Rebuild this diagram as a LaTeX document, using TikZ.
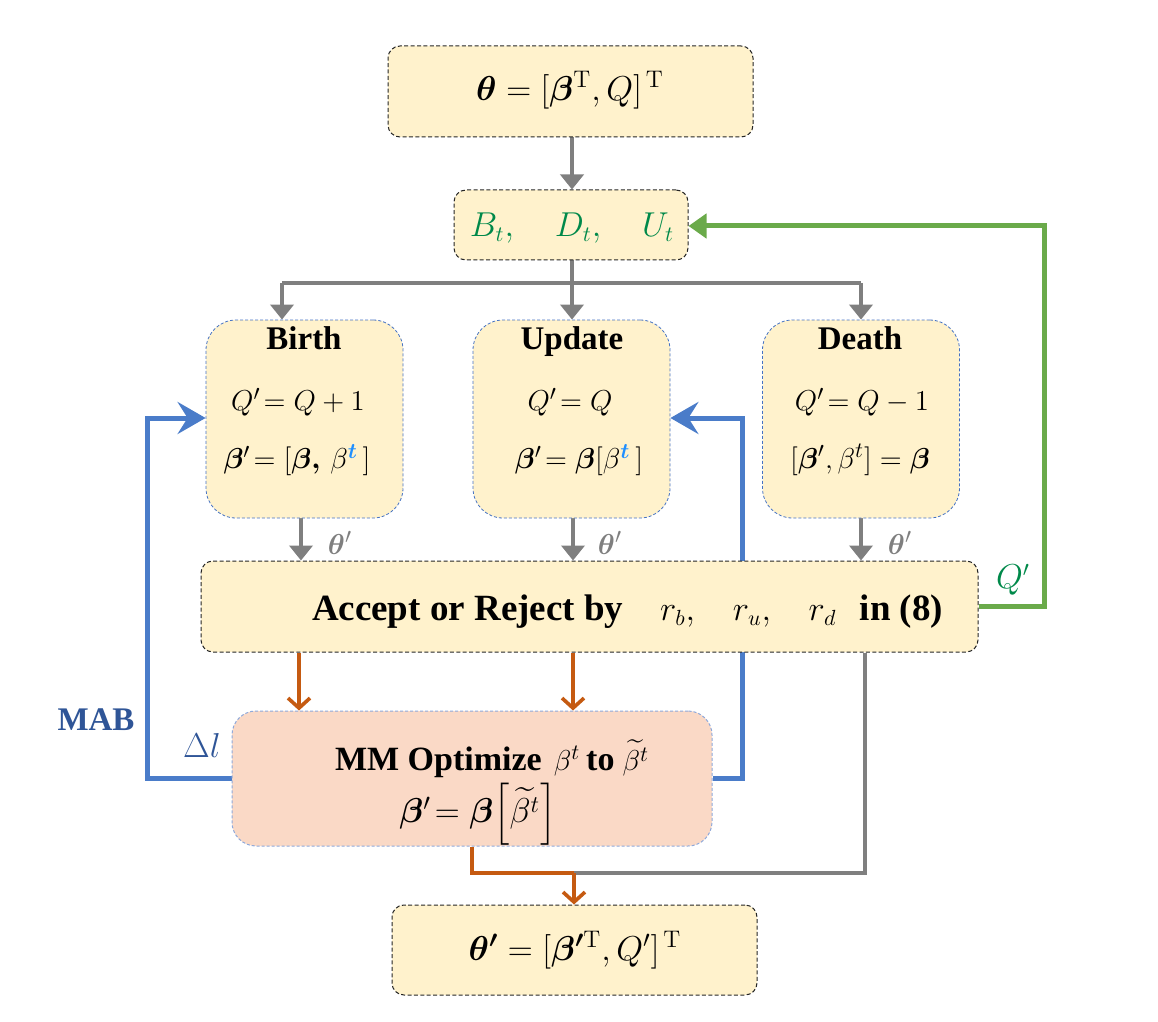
\documentclass[tikz,border=0pt]{standalone}
\usepackage{amsmath,bm}
\usepackage[no-math]{fontspec}
\setmainfont{Liberation Serif}
\usetikzlibrary{arrows.meta}
\definecolor{boxfill}{HTML}{FFF2CC}
\definecolor{mmfill}{HTML}{FAD9C6}
\definecolor{arrgray}{HTML}{7F7F7F}
\definecolor{arrorange}{HTML}{C55A11}
\definecolor{loopblue}{HTML}{4A7CC9}
\definecolor{loopgreen}{HTML}{6AAA4A}
\definecolor{txtgreen}{HTML}{00894A}
\definecolor{mabblue}{HTML}{2F5597}
\definecolor{tblue}{HTML}{1F8FFF}
\definecolor{dashblue}{HTML}{4472C4}
\definecolor{mmborder}{HTML}{8EA9DB}
\pgfdeclarelayer{bg}
\pgfsetlayers{bg,main}
\newcommand{\fs}[1]{\fontsize{#1}{#1}\selectfont}
\begin{document}
\begin{tikzpicture}[x=0.5pt,y=-0.5pt,
  ybox/.style={fill=boxfill, draw=black!85, dash pattern=on 2pt off 1.2pt, line width=0.5pt, rounded corners=6pt, inner sep=0pt},
  pbox/.style={fill=boxfill, draw=dashblue, dash pattern=on 1.5pt off 1pt, line width=0.4pt, rounded corners=15pt, inner sep=0pt, minimum width=98.5pt, minimum height=99pt},
  mmbox/.style={fill=mmfill, draw=mmborder, dash pattern=on 1.5pt off 1pt, line width=0.5pt, rounded corners=12pt, inner sep=0pt},
  lbl/.style={inner sep=0pt, outer sep=0pt},
  grayline/.style={draw=arrgray, line width=2pt},
  grayarrow/.style={grayline, -{Triangle[length=7.5pt,width=11.5pt]}},
  orangeline/.style={draw=arrorange, line width=1.8pt},
  orangearrow/.style={orangeline, -{Straight Barb[length=5pt,width=11pt,line width=1.8pt]}},
  blueloop/.style={draw=loopblue, line width=2.5pt, -{Stealth[length=14pt,width=16pt,inset=5pt]}},
  greenloop/.style={draw=loopgreen, line width=2.5pt, -{Triangle[length=9pt,width=12pt]}},
  title/.style={lbl, anchor=base, font=\fs{16.5}\bfseries}
]
\useasboundingbox (0,0) rectangle (1158,1022);

% boxes
\node[ybox, minimum width=182.5pt, minimum height=45.5pt] (top) at (570.5,91.5) {};
\node[ybox, minimum width=117pt, minimum height=35pt] (bdu) at (571,225) {};
\node[pbox] (birth) at (304.5,419) {};
\node[pbox] (update) at (571.5,419) {};
\node[pbox] (death) at (861,419) {};
\node[ybox, minimum width=388.5pt, minimum height=45.5pt] (accept) at (589.5,606.5) {};
\node[mmbox, minimum width=240pt, minimum height=67.5pt] (mm) at (472,778.5) {};
\node[ybox, minimum width=182.5pt, minimum height=45pt] (bottom) at (574.5,950) {};

% texts
\node[lbl] (toptxt) at (570,90) {\fs{18.5}$\bm{\theta}=[\bm{\beta}^{\mathrm{T}},Q]^{\,\mathrm{T}}$};
\node[lbl, text=txtgreen] (bdutxt) at (572,228) {\fs{16}$B_t,\hspace{1.1em}D_t,\hspace{1.1em}U_t$};

\node[title] (birthT) at (304,350) {Birth};
\node[lbl] (birthQ) at (298,402) {\fs{15.5}$Q'\!=Q+1$};
\node[lbl] (birthB) at (297,460) {\fs{15.5}$\bm{\beta}'\!=[\bm{\beta,}\,\beta^{\textcolor{tblue}{\bm{t}}}\,]$};

\node[title] (updateT) at (572,350) {Update};
\node[lbl] (updateQ) at (570,402) {\fs{15.5}$Q'\!=Q$};
\node[lbl] (updateB) at (579,460) {\fs{15.5}$\bm{\beta}'\!=\bm{\beta}[\beta^{\textcolor{tblue}{\bm{t}}}\,]$};

\node[title] (deathT) at (860,350) {Death};
\node[lbl] (deathQ) at (862,402) {\fs{15.5}$Q'\!=Q-1$};
\node[lbl] (deathB) at (860,460) {\fs{15.5}$[\bm{\beta}',\beta^{t}]=\bm{\beta}$};

\node[lbl, text=arrgray] (th1) at (340,543) {\fs{15.5}$\bm{\theta}'$};
\node[lbl, text=arrgray] (th2) at (610,543) {\fs{15.5}$\bm{\theta}'$};
\node[lbl, text=arrgray] (th3) at (900,543) {\fs{15.5}$\bm{\theta}'$};

\node[lbl, anchor=base west] (acc1) at (312,620) {\fs{18.5}\bfseries Accept or Reject by};
\node[lbl, anchor=base west] (acc2) at (660,620) {\fs{16}$r_b,\hspace{1.0em}r_u,\hspace{1.0em}r_d$};
\node[lbl, anchor=base east] (acc3) at (943,620) {\fs{18.5}\bfseries in (8)};

\node[lbl, anchor=base] (mm1) at (492,770) {{\fs{17}\bfseries MM Optimize}\hspace{6pt}{\fs{15.5}$\beta^t$}\hspace{3pt}{\fs{17}\bfseries to}\hspace{4pt}{\fs{15.5}$\widetilde{\beta^t}$}};
\node[lbl] (mm2) at (478,814) {\fs{16.5}$\bm{\beta}'\!=\bm{\beta}\Big[\widetilde{\beta^t}\Big]$};

\node[lbl] (bottomtxt) at (575,950) {\fs{18.5}$\bm{\theta'}=[\bm{\beta'}^{\mathrm{T}},Q']^{\,\mathrm{T}}$};

\node[lbl, text=mabblue] (mab) at (96,720) {\fs{16.5}\bfseries MAB};
\node[lbl, text=mabblue] (dl) at (202,745) {\fs{17}$\Delta l$};
\node[lbl, text=txtgreen] (qp) at (1013,580) {\fs{16}$Q'$};

% coordinates
\coordinate (hs) at (572,283);
\coordinate (sb) at (282,283);
\coordinate (sd) at (861,283);
\coordinate (ob) at (301,0);
\coordinate (ou) at (573,0);
\coordinate (od) at (861,0);
\coordinate (oa1) at (299,0);
\coordinate (oa2) at (573,0);
\coordinate (lb) at (147,418);
\coordinate (rb) at (742,418);
\coordinate (gc) at (1044,226);
\coordinate (gd) at (865,0);
\coordinate (jn) at (574,873);

\begin{pgfonlayer}{bg}
\draw[blueloop] (mm.west) -| (lb) -- (lb -| birth.west);
\draw[blueloop] (mm.east) -| (rb) -- (rb -| update.east);
\draw[greenloop] (accept.east) -| (gc) -- (gc -| bdu.east);
\draw[grayarrow] (top.south -| hs) -- (hs |- bdu.north);
\draw[grayline] (bdu.south -| hs) -- (hs);
\draw[grayline] (sb) -- (sd);
\draw[grayarrow] (sb) -- (sb |- birth.north);
\draw[grayarrow] (hs) -- (hs |- update.north);
\draw[grayarrow] (sd) -- (sd |- death.north);
\draw[grayarrow] (ob |- birth.south) -- (ob |- accept.north);
\draw[grayarrow] (ou |- update.south) -- (ou |- accept.north);
\draw[grayarrow] (od |- death.south) -- (od |- accept.north);
\draw[orangearrow] (oa1 |- accept.south) -- (oa1 |- mm.north);
\draw[orangearrow] (oa2 |- accept.south) -- (oa2 |- mm.north);
\draw[grayline] (gd |- accept.south) |- (jn);
\draw[orangeline] (mm.south) |- (jn);
\draw[orangearrow] (jn) -- (jn |- bottom.north);
\end{pgfonlayer}
\end{tikzpicture}
\end{document}
